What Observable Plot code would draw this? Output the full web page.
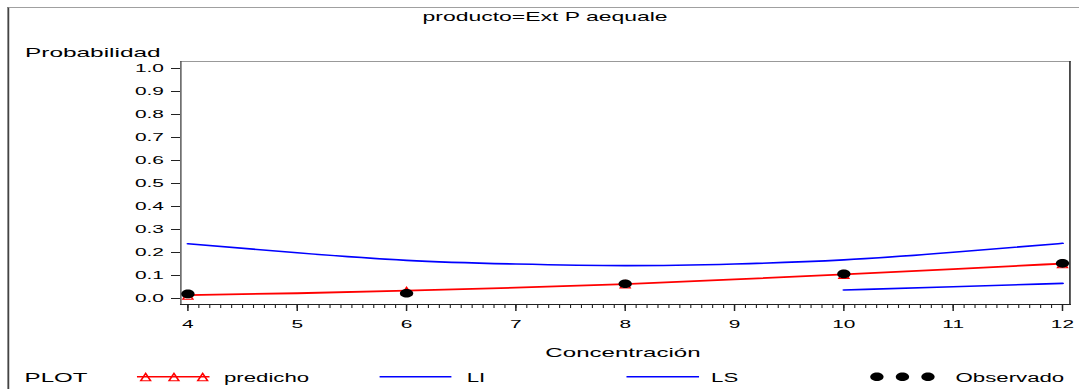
<!DOCTYPE html>
<html><head><meta charset="utf-8">
<script src="https://cdn.jsdelivr.net/npm/d3@7"></script>
<script src="https://cdn.jsdelivr.net/npm/@observablehq/plot@0.6"></script>
<style>
html,body{margin:0;padding:0;background:#fff;overflow:hidden;}
#fig{position:absolute;left:0;top:0;width:583px;height:389px;transform-origin:0 0;font-family:"Liberation Sans",Arial,sans-serif;color:#000;}
.t{position:absolute;white-space:nowrap;}
#border{position:absolute;left:3.8px;top:7px;right:-10px;bottom:-10px;border-top:1px solid #a0a0a0;border-left:1px solid #444;}
</style></head><body>
<div id="fig"><div id="border"></div></div>
<script>
// ---- data ----
const titleText = "producto=Ext P aequale";
const xLabel = "Concentración";
const yLabel = "Probabilidad";
const legendTitle = "PLOT";
const seriesNames = ["predicho", "LI", "LS", "Observado"];

const conc = [4, 5, 6, 7, 8, 9, 10, 11, 12];
const predicho = [0.015, 0.023, 0.034, 0.047, 0.063, 0.083, 0.105, 0.128, 0.152];
const LS = [0.238, 0.199, 0.166, 0.150, 0.143, 0.150, 0.168, 0.201, 0.240];
const concLI = [10, 11, 12];
const LI = [0.037, 0.051, 0.066];
const concObs = [4, 6, 8, 10, 12];
const observado = [0.020, 0.023, 0.064, 0.107, 0.153];

const xTicks = [4, 5, 6, 7, 8, 9, 10, 11, 12];
const yTicks = [0, 0.1, 0.2, 0.3, 0.4, 0.5, 0.6, 0.7, 0.8, 0.9, 1.0];

// ---- tables ----
const predData = conc.map((x, i) => ({x, y: predicho[i]}));
const lsData = conc.map((x, i) => ({x, y: LS[i]}));
const liData = concLI.map((x, i) => ({x, y: LI[i]}));
const obsData = concObs.map((x, i) => ({x, y: observado[i]}));
const triData = predData.filter(d => concObs.includes(d.x));
const minorTicks = d3.range(40, 121).map(d => d / 10);

// custom symbols (the reference is horizontally stretched)
const tallTriangle = {draw(ctx, size) {
  const r = Math.sqrt(size / Math.PI);
  ctx.moveTo(0, -r * 0.9); ctx.lineTo(r * 0.72, r * 1.1); ctx.lineTo(-r * 0.72, r * 1.1); ctx.closePath();
}};
const ellipse = {draw(ctx, size) {
  const r = Math.sqrt(size / Math.PI), rx = r * 0.84, ry = r, k = 0.5523;
  ctx.moveTo(rx, 0);
  ctx.bezierCurveTo(rx, ry * k, rx * k, ry, 0, ry);
  ctx.bezierCurveTo(-rx * k, ry, -rx, ry * k, -rx, 0);
  ctx.bezierCurveTo(-rx, -ry * k, -rx * k, -ry, 0, -ry);
  ctx.bezierCurveTo(rx * k, -ry, rx, -ry * k, rx, 0);
  ctx.closePath();
}};

const W = 583, H = 389, S = 1079 / W;
const fig = document.getElementById("fig");

const plot = Plot.plot({
  width: W, height: H,
  marginLeft: 97.25, marginRight: 5.4, marginTop: 61, marginBottom: 85,
  x: {domain: [3.936, 12.068], label: null},
  y: {domain: [-0.026, 1.0304], label: null},
  style: {fontFamily: "Liberation Sans, Arial, sans-serif", fontSize: "11.3px", color: "#000", background: "transparent", overflow: "visible"},
  marks: [
    Plot.frame({anchor: "top", stroke: "#999", strokeWidth: 1}),
    Plot.frame({anchor: "right", stroke: "#333", strokeWidth: 0.9}),
    Plot.frame({anchor: "left", stroke: "#222", strokeWidth: 0.6}),
    Plot.frame({anchor: "bottom", stroke: "#222", strokeWidth: 1}),
    Plot.axisY({ticks: yTicks, tickFormat: d3.format(".1f"), tickSize: 4.86, tickPadding: 4.3, strokeWidth: 1, stroke: "#222", label: null}),
    Plot.axisX({ticks: minorTicks, tickSize: 4, tickFormat: () => "", strokeWidth: 0.6, stroke: "#222", label: null}),
    Plot.axisX({ticks: xTicks, tickSize: 7, tickPadding: 8.5, strokeWidth: 0.8, stroke: "#222", tickFormat: d => String(d), label: null}),
    Plot.line(lsData, {x: "x", y: "y", stroke: "#0000ff", strokeWidth: 1.6, curve: "natural"}),
    Plot.line(liData, {x: "x", y: "y", stroke: "#0000ff", strokeWidth: 1.6, curve: "natural"}),
    Plot.line(predData, {x: "x", y: "y", stroke: "#ff0000", strokeWidth: 1.8, curve: "natural"}),
    Plot.dot(triData, {x: "x", y: "y", symbol: tallTriangle, r: 3.7, stroke: "#ff0000", fill: "none", strokeWidth: 1}),
    Plot.dot(obsData, {x: "x", y: "y", symbol: ellipse, r: 4.3, fill: "#000", stroke: "none"})
  ]
});
plot.style.position = "absolute";
plot.style.left = "0px";
plot.style.top = "0px";
fig.appendChild(plot);

function addText(str, {left, center, baseline, size}) {
  const d = document.createElement("div");
  d.className = "t";
  d.textContent = str;
  d.style.fontSize = size + "px";
  d.style.lineHeight = size + "px";
  d.style.top = (baseline - 0.8465 * size) + "px";
  if (center !== undefined) {
    d.style.left = (center - 300) + "px"; d.style.width = "600px"; d.style.textAlign = "center";
  } else d.style.left = left + "px";
  fig.appendChild(d);
}
addText(titleText, {center: 294.5, baseline: 21, size: 12.4});
addText(yLabel, {left: 13.5, baseline: 57.5, size: 13.2});
addText(xLabel, {center: 336.6, baseline: 357.5, size: 13});
addText(legendTitle, {left: 13.3, baseline: 382.5, size: 13});
addText(seriesNames[0], {left: 121.0, baseline: 382.5, size: 12});
addText(seriesNames[1], {left: 252.2, baseline: 382.5, size: 12});
addText(seriesNames[2], {left: 384.2, baseline: 382.5, size: 12});
addText(seriesNames[3], {left: 516.3, baseline: 382.5, size: 12});

// legend swatches
const ns = "http://www.w3.org/2000/svg";
const sw = document.createElementNS(ns, "svg");
sw.setAttribute("width", W); sw.setAttribute("height", H);
sw.style.position = "absolute"; sw.style.left = "0"; sw.style.top = "0"; sw.style.overflow = "visible";
fig.appendChild(sw);
const ly = 376.7;
function line(x1, x2, color, w) {
  const l = document.createElementNS(ns, "line");
  l.setAttribute("x1", x1); l.setAttribute("x2", x2); l.setAttribute("y1", ly); l.setAttribute("y2", ly);
  l.setAttribute("stroke", color); l.setAttribute("stroke-width", w);
  sw.appendChild(l);
}
function pathAt(sym, r, cx, attrs) {
  const p = d3.path();
  sym.draw(p, r * r * Math.PI);
  const el = document.createElementNS(ns, "path");
  el.setAttribute("d", p.toString());
  el.setAttribute("transform", `translate(${cx},${ly})`);
  for (const k in attrs) el.setAttribute(k, attrs[k]);
  sw.appendChild(el);
}
line(74, 113.2, "#ff0000", 1.5);
[78.7, 94, 109.5].forEach(cx => pathAt(tallTriangle, 3.7, cx, {fill: "none", stroke: "#ff0000", "stroke-width": 1}));
line(205.1, 243.9, "#0000ff", 1.5);
line(338.5, 377.7, "#0000ff", 1.5);
[473.8, 487.6, 501.4].forEach(cx => pathAt(ellipse, 4.3, cx, {fill: "#000"}));

fig.style.transform = `scaleX(${S})`;
</script>
</body></html>
